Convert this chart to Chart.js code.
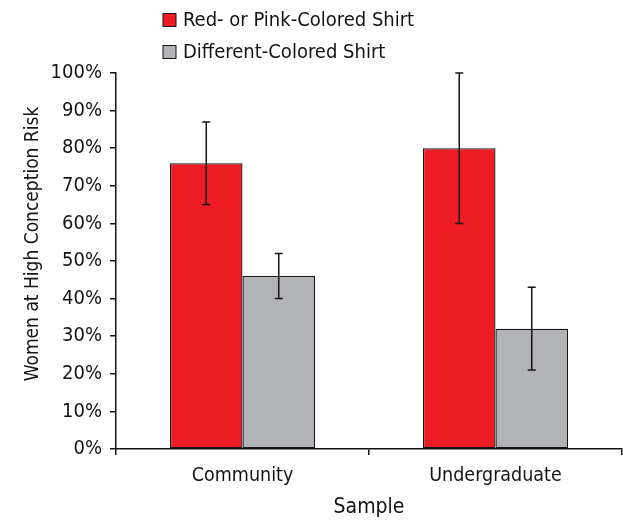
<!DOCTYPE html>
<html>
<head>
<meta charset="utf-8">
<script src="https://cdn.jsdelivr.net/npm/chart.js@4.4.1/dist/chart.umd.min.js"></script>
<style>
  html, body { margin: 0; padding: 0; background: #ffffff; }
  #wrap { width: 623px; height: 520px; }
</style>
</head>
<body>
<div id="wrap"><canvas id="c" width="623" height="520"></canvas></div>
<script>
// Samples and shirt-colour groups
const categories = ['Community', 'Undergraduate'];
const seriesLabels = ['Red- or Pink-Colored Shirt', 'Different-Colored Shirt'];

// Percentage of women at high conception risk
const redValues = [76, 80];
const otherValues = [46, 32];

// Error bar limits (lower, upper)
const redLow = [65, 60];
const redHigh = [87, 100];
const otherLow = [40, 21];
const otherHigh = [52, 43];

const yTicks = [0, 10, 20, 30, 40, 50, 60, 70, 80, 90, 100];

const FONT = '"DejaVu Sans Condensed", "Liberation Sans Narrow", "Liberation Sans", sans-serif';
const INK = '#161314';
const RED = '#ED1C24';
const GREY = '#B1B3B6';

// Vertical error bars with caps, drawn over each bar
const errorBars = {
  id: 'errorBars',
  afterDatasetsDraw(chart) {
    const { ctx, scales: { y } } = chart;
    ctx.save();
    ctx.strokeStyle = INK;
    ctx.lineWidth = 1.5;
    chart.data.datasets.forEach((ds, di) => {
      const meta = chart.getDatasetMeta(di);
      meta.data.forEach((bar, i) => {
        const x = bar.x;
        const yLo = y.getPixelForValue(ds.errLow[i]);
        const yHi = y.getPixelForValue(ds.errHigh[i]);
        const cap = 4;
        ctx.beginPath();
        ctx.moveTo(x, yLo); ctx.lineTo(x, yHi);
        ctx.moveTo(x - cap, yHi); ctx.lineTo(x + cap, yHi);
        ctx.moveTo(x - cap, yLo); ctx.lineTo(x + cap, yLo);
        ctx.stroke();
      });
    });
    ctx.restore();
  }
};

// Stacked legend at the top and the vertical axis title
const sideText = {
  id: 'sideText',
  afterDraw(chart) {
    const { ctx } = chart;
    ctx.save();
    const rows = [20, 52];
    chart.data.datasets.forEach((ds, i) => {
      const cy = rows[i];
      ctx.fillStyle = ds.backgroundColor;
      ctx.fillRect(163, cy - 6.5, 13, 13);
      ctx.strokeStyle = INK;
      ctx.lineWidth = 1;
      ctx.strokeRect(163, cy - 6.5, 13, 13);
      ctx.fillStyle = INK;
      ctx.font = '20px ' + FONT;
      ctx.textAlign = 'left';
      ctx.textBaseline = 'middle';
      ctx.fillText(ds.label, 183, cy + 1);
    });
    ctx.translate(33, 244);
    ctx.rotate(-Math.PI / 2);
    ctx.font = '19px ' + FONT;
    ctx.textAlign = 'center';
    ctx.textBaseline = 'middle';
    ctx.fillStyle = INK;
    ctx.fillText('Women at High Conception Risk', 0, 0);
    ctx.restore();
  }
};

new Chart(document.getElementById('c'), {
  type: 'bar',
  data: {
    labels: categories,
    datasets: [
      {
        label: seriesLabels[0],
        data: redValues,
        errLow: redLow,
        errHigh: redHigh,
        backgroundColor: RED,
        borderColor: INK,
        borderWidth: 1.3,
        borderSkipped: false
      },
      {
        label: seriesLabels[1],
        data: otherValues,
        errLow: otherLow,
        errHigh: otherHigh,
        backgroundColor: GREY,
        borderColor: INK,
        borderWidth: 1.3,
        borderSkipped: false
      }
    ]
  },
  options: {
    responsive: false,
    animation: false,
    devicePixelRatio: 1,
    categoryPercentage: 0.573,
    barPercentage: 1.0,
    layout: { padding: { top: 73, right: 1, left: 0, bottom: 0 } },
    plugins: {
      legend: { display: false },
      tooltip: { enabled: false }
    },
    scales: {
      x: {
        grid: {
          offset: true,
          drawOnChartArea: false,
          drawTicks: true,
          tickLength: 6,
          color: INK,
          lineWidth: 1.5
        },
        border: { display: true, color: INK, width: 1.5 },
        ticks: { color: INK, padding: 9, font: { family: FONT, size: 19.5 } },
        title: {
          display: true,
          text: 'Sample',
          color: INK,
          font: { family: FONT, size: 21 },
          padding: { top: 0, bottom: 0 }
        },
        afterFit(scale) { scale.height = 71; }
      },
      y: {
        min: 0,
        max: 100,
        afterBuildTicks(scale) { scale.ticks = yTicks.map(v => ({ value: v })); },
        grid: {
          drawOnChartArea: false,
          drawTicks: true,
          tickLength: 6,
          color: INK,
          lineWidth: 1.5
        },
        border: { display: true, color: INK, width: 1.5 },
        ticks: {
          color: INK,
          padding: 8,
          font: { family: FONT, size: 20 },
          callback: v => v + '%'
        },
        afterFit(scale) { scale.width = 116; }
      }
    }
  },
  plugins: [errorBars, sideText]
});
</script>
</body>
</html>
